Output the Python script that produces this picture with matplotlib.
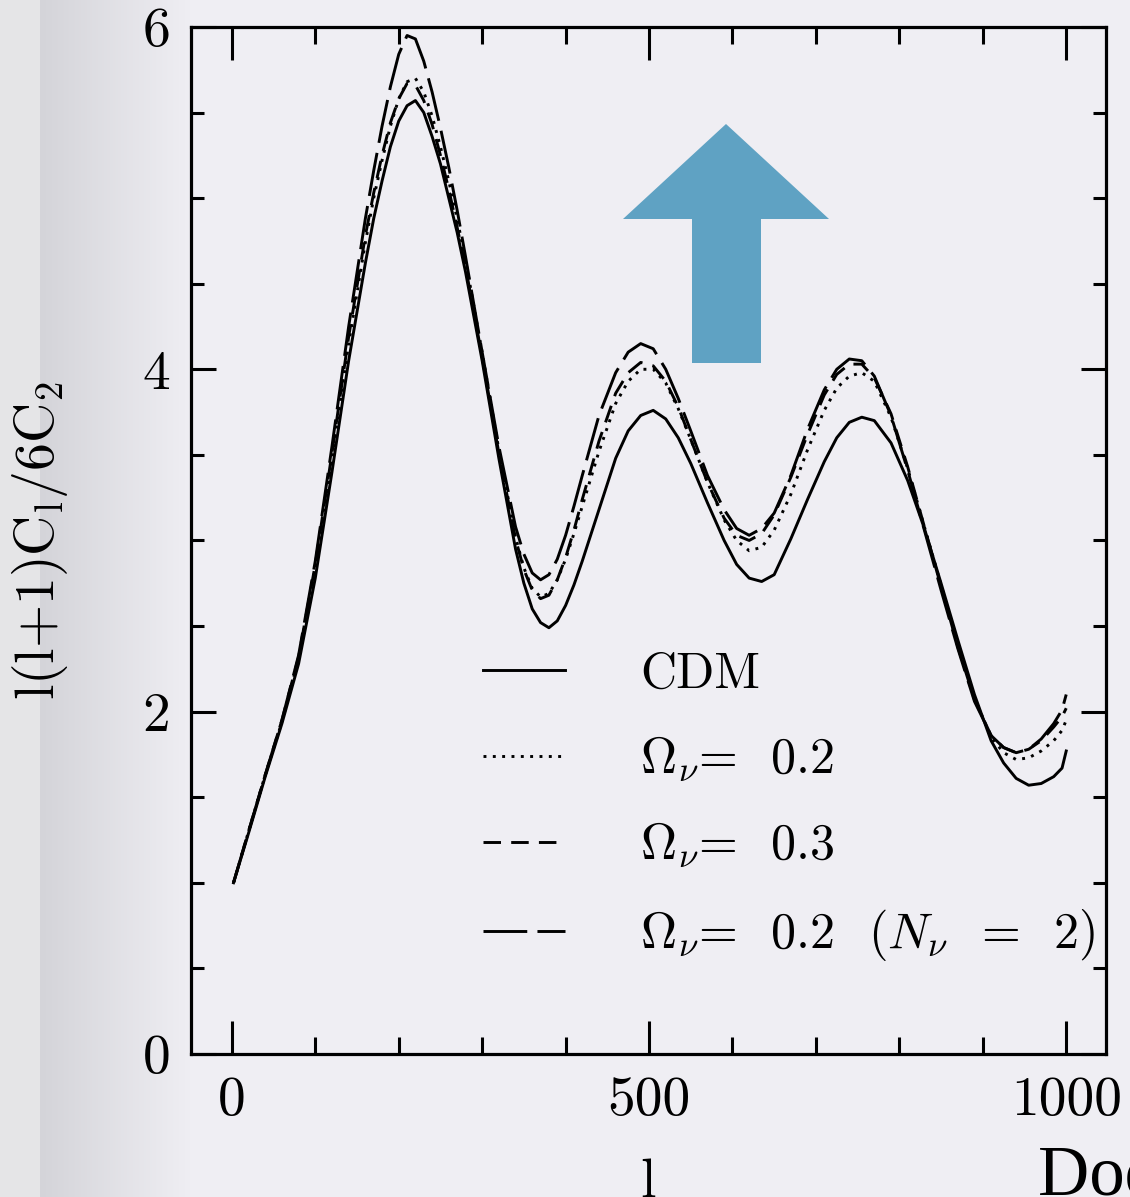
"""
CMB anisotropy spectra: CDM vs. mixed dark matter models.
"""

import matplotlib.pyplot as plt
import numpy as np
from matplotlib.patches import Polygon

plt.rcParams["font.family"] = "cmr10"
plt.rcParams["mathtext.fontset"] = "cm"
plt.rcParams["axes.formatter.use_mathtext"] = True

# ------------------------------------------------------------
# data
# ------------------------------------------------------------

ell = [2, 20, 40, 60, 80, 100, 120, 140, 160,
       170, 180, 190, 200, 210, 220, 230, 240, 250, 260, 270, 280,
       300, 320,
       340, 350, 360, 370, 380, 390, 400, 410, 420,
       440, 460, 475, 490, 505, 520, 535, 550, 570, 590, 605, 620, 635,
       650, 670, 690, 710, 725, 740, 755, 770, 790, 810, 830, 850, 870,
       890, 910, 925, 940, 955, 970, 985, 995, 1000]

cdm = [1.00, 1.29, 1.62, 1.93, 2.28, 2.78, 3.40, 4.05, 4.62,
       4.88, 5.10, 5.30, 5.45, 5.54, 5.57, 5.50, 5.36, 5.20, 5.00, 4.80, 4.57,
       4.05, 3.48,
       2.95, 2.75, 2.60, 2.52, 2.49, 2.53, 2.62, 2.74, 2.88,
       3.18, 3.48, 3.64, 3.73, 3.76, 3.71, 3.60, 3.45, 3.22, 3.00, 2.86,
       2.78, 2.76, 2.80, 3.01, 3.24, 3.46, 3.60, 3.69, 3.72, 3.70, 3.57,
       3.35, 3.07, 2.75, 2.42, 2.10, 1.83, 1.70, 1.61, 1.57, 1.58, 1.62,
       1.67, 1.77]

omega_02 = [1.00, 1.30, 1.63, 1.94, 2.31, 2.84, 3.48, 4.15, 4.74,
            5.00, 5.22, 5.42, 5.58, 5.68, 5.70, 5.62, 5.48, 5.30, 5.10,
            4.88, 4.64,
            4.10, 3.53,
            3.02, 2.84, 2.72, 2.67, 2.69, 2.77, 2.89, 3.04, 3.20,
            3.52, 3.80, 3.93, 4.00, 4.00, 3.92, 3.77, 3.59, 3.34, 3.12,
            3.00, 2.94, 2.96, 3.06, 3.27, 3.53, 3.76, 3.89, 3.96, 3.98,
            3.93, 3.72, 3.42, 3.08, 2.74, 2.39, 2.08, 1.85, 1.76, 1.72,
            1.73, 1.77, 1.83, 1.89, 1.95]

omega_03 = [1.00, 1.30, 1.63, 1.95, 2.32, 2.86, 3.51, 4.19, 4.78,
            5.03, 5.25, 5.44, 5.58, 5.67, 5.66, 5.57, 5.43, 5.25, 5.05,
            4.83, 4.60,
            4.07, 3.51,
            3.01, 2.83, 2.71, 2.66, 2.68, 2.77, 2.90, 3.06, 3.24,
            3.58, 3.86, 3.98, 4.04, 4.02, 3.93, 3.78, 3.59, 3.34, 3.13,
            3.03, 3.00, 3.04, 3.15, 3.37, 3.62, 3.85, 3.97, 4.03, 4.03,
            3.95, 3.74, 3.43, 3.08, 2.73, 2.38, 2.07, 1.86, 1.79, 1.76,
            1.78, 1.83, 1.91, 1.97, 2.02]

omega_02_n2 = [1.00, 1.30, 1.63, 1.95, 2.33, 2.88, 3.55, 4.25, 4.88,
               5.16, 5.42, 5.65, 5.84, 5.95, 5.93, 5.80, 5.62, 5.41, 5.18,
               4.93, 4.66,
               4.10, 3.55,
               3.08, 2.92, 2.81, 2.77, 2.80, 2.89, 3.03, 3.20, 3.38,
               3.73, 3.98, 4.10, 4.15, 4.12, 4.00, 3.83, 3.64, 3.38, 3.18,
               3.07, 3.03, 3.07, 3.16, 3.38, 3.65, 3.88, 4.00, 4.06, 4.05,
               3.96, 3.73, 3.41, 3.06, 2.71, 2.37, 2.06, 1.86, 1.79, 1.76,
               1.78, 1.84, 1.93, 2.01, 2.10]

labels = [
    "CDM",
    r"$\Omega_\nu$=  0.2",
    r"$\Omega_\nu$=  0.3",
    r"$\Omega_\nu$=  0.2  ($N_\nu$  =  2)",
]

x_major = [0, 500, 1000]
y_major = [0, 2, 4, 6]

# ------------------------------------------------------------
# figure + slide background
# ------------------------------------------------------------

BG = np.array([239, 238, 243]) / 255

fig = plt.figure(figsize=(11.3, 11.97), dpi=100)
fig.patch.set_facecolor(BG)

bg_ax = fig.add_axes([0, 0, 1, 1], zorder=-5)
bg_ax.axis("off")
cols = np.arange(1130)
shade = np.ones((1, 1130, 3)) * BG
shade[0, :40] = np.array([229, 229, 231]) / 255
fade = np.clip((cols - 40) / 150.0, 0, 1)[:, None]
dark = np.array([212, 212, 217]) / 255
shade[0, 40:] = (dark * (1 - fade) + BG * fade)[40:]
bg_ax.imshow(shade, extent=[0, 1, 0, 1], aspect="auto")
bg_ax.set_xlim(0, 1)
bg_ax.set_ylim(0, 1)

# blue arrow (slide decoration), figure pixels
arrow_px = [(726, 124), (829, 219), (761, 219), (761, 363),
            (692, 363), (692, 219), (623, 219)]
arrow = Polygon([(x / 1130, 1 - y / 1197) for x, y in arrow_px],
                closed=True, transform=fig.transFigure,
                facecolor="#5fa2c3", edgecolor="none", zorder=3)
fig.patches.append(arrow)

# ------------------------------------------------------------
# plot
# ------------------------------------------------------------

ax = fig.add_axes([0.169, 0.1195, 0.810, 0.858])
ax.patch.set_alpha(0)

styles = ["-", (0, (1, 2.2)), (0, (6, 3.5)), (0, (15, 3.5))]
series = [cdm, omega_02, omega_03, omega_02_n2]
for vals, ls, lab in zip(series, styles, labels):
    ax.plot(ell, vals, color="black", lw=2.1, ls=ls, label=lab,
            solid_joinstyle="round", dash_joinstyle="round")

ax.set_xlim(-49, 1048)
ax.set_ylim(0, 6)
ax.set_xticks(x_major)
ax.set_xticks(np.arange(0, 1001, 100), minor=True)
ax.set_yticks(y_major)
ax.set_yticks(np.arange(0, 6.01, 0.5), minor=True)
ax.set_xticklabels([str(v) for v in x_major])
ax.set_yticklabels([str(v) for v in y_major])

for sp in ax.spines.values():
    sp.set_linewidth(2.3)

ax.tick_params(which="both", direction="in", top=True, right=True,
               width=2.2, labelsize=40, colors="black")
ax.tick_params(axis="x", which="major", length=24, pad=16)
ax.tick_params(axis="x", which="minor", length=12)
ax.tick_params(axis="y", which="major", length=18, pad=15)
ax.tick_params(axis="y", which="minor", length=9.5)

ax.set_xlabel("l", fontsize=40)
ax.xaxis.set_label_coords(0.4995, -0.102)
ax.set_ylabel(r"l(l+1)C$_\mathrm{l}$/6C$_2$", fontsize=40)
ax.yaxis.set_label_coords(-0.132, 0.50)

ax.legend(loc="upper left", bbox_to_anchor=(0.319, 0.392), frameon=False,
          fontsize=36, handlelength=1.64, handletextpad=1.5,
          labelspacing=0.74, borderaxespad=0, borderpad=0)

fig.text(1038 / 1130, 1 - 1196 / 1197, "Dodelson et al.", fontsize=51,
         family="Liberation Serif", va="baseline", ha="left")

fig.savefig("out.png", dpi=100, facecolor=fig.get_facecolor())
